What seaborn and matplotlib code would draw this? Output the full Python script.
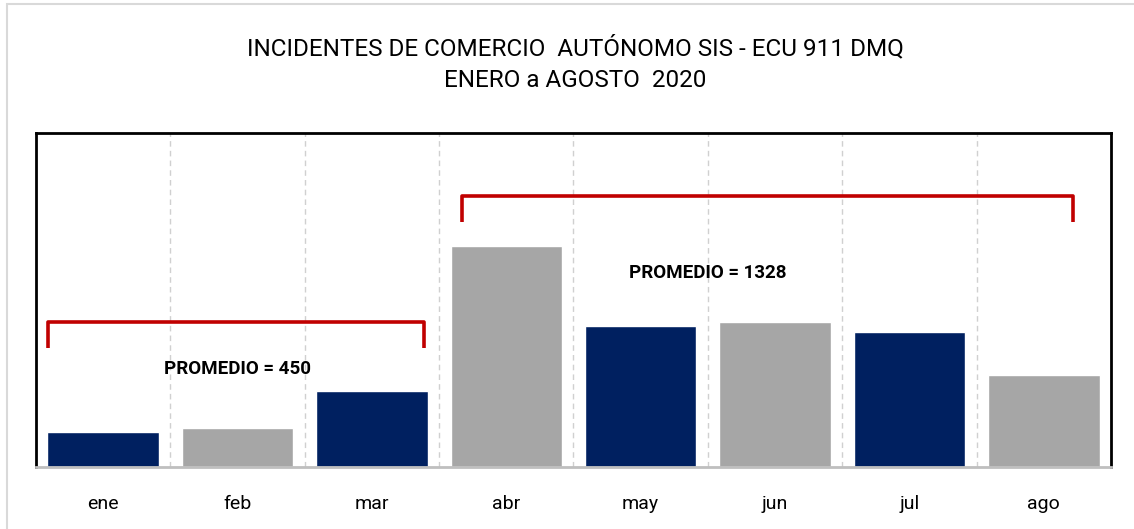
import pandas as pd
import matplotlib.pyplot as plt
import seaborn as sns
from matplotlib.patches import Rectangle

# data
meses = ['ene', 'feb', 'mar', 'abr', 'may', 'jun', 'jul', 'ago']
incidentes = [315, 352, 683, 2000, 1275, 1310, 1220, 835]
colores = ['#002060', '#A6A6A6', '#002060', '#A6A6A6', '#002060', '#A6A6A6', '#002060', '#A6A6A6']
promedio_1 = 450
promedio_2 = 1328

df = pd.DataFrame({'mes': meses, 'incidentes': incidentes})

sns.set_style('white')
plt.rcParams['font.family'] = ['Roboto', 'DejaVu Sans']
plt.rcParams['text.color'] = 'black'
plt.rcParams['xtick.color'] = 'black'

fig = plt.figure(figsize=(11.34, 5.29), dpi=100)
ax = fig.add_axes([0.0317, 0.1172, 0.948, 0.6314])

sns.barplot(data=df, x='mes', y='incidentes', hue='mes', palette=colores,
            legend=False, width=0.83, saturation=1, ax=ax)

ax.set_ylim(0, 3020)
ax.set_xlim(-0.5, 7.5)
ax.set_yticks([])
ax.set_xlabel('')
ax.set_ylabel('')
ax.tick_params(axis='x', length=0, labelsize=14, pad=20)

# dashed separators between months
for b in range(1, 8):
    ax.axvline(b - 0.5, color='#D0D0D0', ls=(0, (4, 3)), lw=1, zorder=0)

for s in ['top', 'left', 'right']:
    ax.spines[s].set_color('black')
    ax.spines[s].set_linewidth(2)
ax.spines['bottom'].set_color('#BFBFBF')
ax.spines['bottom'].set_linewidth(2)

# brackets with averages
rojo = '#C00000'
ax.plot([-0.41, -0.41, 2.39, 2.39], [1075, 1310, 1310, 1075], color=rojo, lw=2.6,
        solid_joinstyle='round', solid_capstyle='butt')
ax.plot([2.67, 2.67, 7.22, 7.22], [2215, 2450, 2450, 2215], color=rojo, lw=2.6,
        solid_joinstyle='round', solid_capstyle='butt')
ax.text(1.0, 885, f'PROMEDIO = {promedio_1}', ha='center', va='center',
        fontsize=13.5, fontweight='bold')
ax.text(4.5, 1755, f'PROMEDIO = {promedio_2}', ha='center', va='center',
        fontsize=13.5, fontweight='bold')

fig.text(0.507, 0.91, 'INCIDENTES DE COMERCIO  AUTÓNOMO SIS - ECU 911 DMQ',
         ha='center', va='center', fontsize=17.5)
fig.text(0.507, 0.848, 'ENERO a AGOSTO  2020', ha='center', va='center', fontsize=17.5)

# light outer frame
fig.patches.append(Rectangle((0.0065, -0.01), 1.0, 1.002, transform=fig.transFigure,
                             fill=False, edgecolor='#D9D9D9', lw=1.5))

plt.savefig('out.png', dpi=100)
